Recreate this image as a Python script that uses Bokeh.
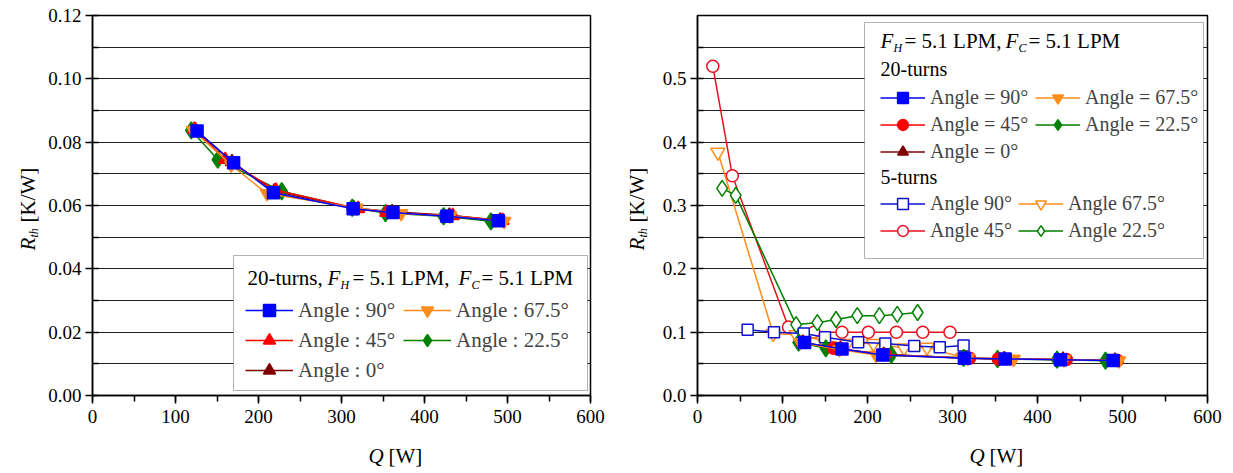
import math
from bokeh.plotting import figure
from bokeh.layouts import row, column
from bokeh.models import (Legend, LegendItem, Label, BoxAnnotation,
                          SingleIntervalTicker, PrintfTickFormatter, Range1d)
from bokeh.embed import file_html
from bokeh.resources import INLINE

# ---------------- data ----------------
# 20-turns, FH = FC = 5.1 LPM  (Q [W], Rth [K/W])
q20_90 = [126, 170, 218, 314, 362, 427, 489]
r20_90 = [0.0835, 0.0735, 0.0640, 0.0590, 0.0578, 0.0566, 0.0552]
q20_675 = [121, 167, 210, 318, 372, 431, 496]
r20_675 = [0.0838, 0.0728, 0.0638, 0.0592, 0.0575, 0.0567, 0.0550]
q20_45 = [123, 160, 221, 320, 354, 434, 494]
r20_45 = [0.0840, 0.0745, 0.0648, 0.0590, 0.0578, 0.0568, 0.0553]
q20_225 = [119, 151, 228, 313, 353, 423, 480]
r20_225 = [0.0837, 0.0745, 0.0645, 0.0593, 0.0576, 0.0566, 0.0550]
q20_0 = [124, 168, 219, 315, 361, 430, 491]
r20_0 = [0.0838, 0.0738, 0.0645, 0.0592, 0.0580, 0.0569, 0.0553]

# 5-turns
q5_90 = [59, 90, 125, 150, 189, 221, 255, 285, 313]
r5_90 = [0.104, 0.100, 0.098, 0.092, 0.084, 0.082, 0.078, 0.076, 0.079]
q5_675 = [24, 89, 116, 148, 176, 207, 243, 270, 312]
r5_675 = [0.384, 0.098, 0.096, 0.087, 0.082, 0.082, 0.075, 0.076, 0.060]
q5_45 = [18, 41, 107, 137, 170, 201, 234, 265, 297]
r5_45 = [0.520, 0.347, 0.108, 0.100, 0.100, 0.100, 0.100, 0.100, 0.100]
q5_225 = [29, 45, 116, 141, 163, 188, 214, 235, 259]
r5_225 = [0.327, 0.316, 0.112, 0.115, 0.120, 0.126, 0.126, 0.128, 0.131]

BLUE = "#0000ff"
ORANGE = "#ff8c1a"
RED = "#ff0000"
GREEN = "#008000"
DRED = "#800000"
FONT = "Liberation Serif"


def base_fig(fl, fw, fr, ymax, yint, fmt):
    p = figure(frame_width=fw, frame_height=380, min_border_left=fl,
               min_border_right=fr, min_border_top=15, min_border_bottom=40,
               x_range=Range1d(0, 600), y_range=Range1d(0, ymax),
               output_backend="svg", toolbar_location=None)
    p.outline_line_color = "black"
    p.outline_line_width = 1.5
    xt = SingleIntervalTicker(interval=100, num_minor_ticks=2)
    yt = SingleIntervalTicker(interval=yint, num_minor_ticks=2)
    p.xaxis.ticker = xt
    p.yaxis.ticker = yt
    p.ygrid.ticker = yt
    p.yaxis.formatter = PrintfTickFormatter(format=fmt)
    p.xgrid.visible = False
    p.ygrid.grid_line_color = "#222222"
    p.ygrid.grid_line_width = 1
    p.ygrid.minor_grid_line_color = "#222222"
    p.ygrid.minor_grid_line_width = 1
    p.axis.axis_line_color = "black"
    p.axis.axis_line_width = 1.5
    p.axis.major_tick_line_color = "black"
    p.axis.minor_tick_line_color = "black"
    p.axis.major_tick_line_width = 1.5
    p.axis.minor_tick_line_width = 1.5
    p.axis.major_label_text_font = FONT
    p.axis.major_label_text_font_size = "19px"
    p.axis.major_label_text_color = "black"
    p.xaxis.major_tick_in = 0
    p.xaxis.major_tick_out = 8
    p.xaxis.minor_tick_in = 0
    p.xaxis.minor_tick_out = 6
    p.xaxis.major_label_standoff = 6
    p.yaxis.major_tick_in = 0
    p.yaxis.major_tick_out = 7
    p.yaxis.minor_tick_in = 6
    p.yaxis.minor_tick_out = 0
    p.yaxis.major_label_standoff = 4
    return p


def blank_fig(w, h):
    f = figure(width=w, height=h, min_border_left=0, min_border_right=0,
               min_border_top=0, min_border_bottom=0, x_axis_type=None,
               y_axis_type=None, output_backend="svg", toolbar_location=None)
    f.outline_line_color = None
    f.xgrid.visible = False
    f.ygrid.visible = False
    return f


def txt(p, fl, fb, px, py, text, size="21px", style="normal", angle=0.0,
        align="left"):
    p.add_layout(Label(x=px - fl, y=fb - py, x_units="screen", y_units="screen",
                       text=text, text_font=FONT, text_font_size=size,
                       text_font_style=style, text_align=align,
                       text_baseline="middle", angle=angle, text_color="black"))


def series(p, q, r, color, marker, size, fill=None):
    ln = p.line(q, r, line_color=color, line_width=1.5)
    sc = p.scatter(q, r, marker=marker, size=size, line_color=color,
                   fill_color=fill if fill else color, line_width=1.5)
    return [ln, sc]


def make_legend(items, x, y, gw, gh, lw, fs):
    return Legend(items=items, ncols=2, location=(x, y), padding=0, margin=0,
                  spacing=0, glyph_width=gw, glyph_height=gh, label_height=gh,
                  label_width=lw, label_standoff=5, border_line_alpha=0,
                  background_fill_alpha=0, label_text_font=FONT,
                  label_text_font_size=fs)


def box(p, fl, fb, x0, x1, y0, y1):
    p.add_layout(BoxAnnotation(left=x0 - fl, right=x1 - fl, top=fb - y0,
                               bottom=fb - y1, left_units="screen",
                               right_units="screen", top_units="screen",
                               bottom_units="screen", fill_color="white",
                               fill_alpha=1, line_color="black", line_width=1))


# ---------------- left plot ----------------
FL1, FB1 = 92, 395
p1 = base_fig(52, 498, 33, 0.12, 0.02, "%.2f")
r0 = series(p1, q20_0, r20_0, DRED, "triangle", 13)
r225 = series(p1, q20_225, r20_225, GREEN, "diamond", 17)
r45 = series(p1, q20_45, r20_45, RED, "triangle", 13)
r675 = series(p1, q20_675, r20_675, ORANGE, "inverted_triangle", 13)
r90 = series(p1, q20_90, r20_90, BLUE, "square", 12)

box(p1, FL1, FB1, 233, 587, 255, 390)
p1.add_layout(make_legend(
    [LegendItem(label="Angle : 90°", renderers=r90),
     LegendItem(label="Angle : 45°", renderers=r45),
     LegendItem(label="Angle : 0°", renderers=r0),
     LegendItem(label="Angle : 67.5°", renderers=r675),
     LegendItem(label="Angle : 22.5°", renderers=r225)],
    245 - FL1, FB1 - 385, 48, 30, 105, "21px"))
txt(p1, FL1, FB1, 247, 277, "20-turns,")
txt(p1, FL1, FB1, 327, 277, "F", style="italic")
txt(p1, FL1, FB1, 340, 284, "H", size="12px", style="italic")
txt(p1, FL1, FB1, 352, 277, "= 5.1 LPM,")
txt(p1, FL1, FB1, 458, 277, "F", style="italic")
txt(p1, FL1, FB1, 471, 284, "C", size="12px", style="italic")
txt(p1, FL1, FB1, 481, 277, "= 5.1 LPM")

# left y title / x title holders
t1 = blank_fig(40, 473)
txt(t1, 0, 473, 27, 250, "R", style="italic", angle=math.pi / 2)
txt(t1, 0, 473, 33, 237, "th", size="12px", style="italic", angle=math.pi / 2)
txt(t1, 0, 473, 27, 222, "[K/W]", angle=math.pi / 2)
x1 = blank_fig(583, 38)
txt(x1, 40, 473, 316, 455, "Q", style="italic")
txt(x1, 40, 473, 336, 455, "[W]")

# ---------------- right plot ----------------
FL2, FB2 = 697, 395
p2 = base_fig(42, 510, 26, 0.6, 0.1, "%.1f")
o45 = series(p2, q5_45, r5_45, "#e8101e", "circle", 12, fill="white")
o675 = series(p2, q5_675, r5_675, ORANGE, "inverted_triangle", 14, fill="white")
o225 = series(p2, q5_225, r5_225, GREEN, "diamond", 16, fill="white")
o90 = series(p2, q5_90, r5_90, "#1010d0", "square", 11, fill="white")
f0 = series(p2, q20_0, r20_0, DRED, "triangle", 13)
f225 = series(p2, q20_225, r20_225, GREEN, "diamond", 17)
f45 = series(p2, q20_45, r20_45, RED, "circle", 12)
f675 = series(p2, q20_675, r20_675, ORANGE, "inverted_triangle", 13)
f90 = series(p2, q20_90, r20_90, BLUE, "square", 12)

box(p2, FL2, FB2, 864, 1203, 22, 258)
p2.add_layout(make_legend(
    [LegendItem(label="Angle = 90°", renderers=f90),
     LegendItem(label="Angle = 45°", renderers=f45),
     LegendItem(label="Angle = 0°", renderers=f0),
     LegendItem(label="Angle = 67.5°", renderers=f675),
     LegendItem(label="Angle = 22.5°", renderers=f225)],
    880 - FL2, FB2 - 165, 45, 27, 105, "20px"))
p2.add_layout(make_legend(
    [LegendItem(label="Angle 90°", renderers=o90),
     LegendItem(label="Angle 45°", renderers=o45),
     LegendItem(label="Angle 67.5°", renderers=o675),
     LegendItem(label="Angle 22.5°", renderers=o225)],
    880 - FL2, FB2 - 244, 45, 27, 88, "20px"))
txt(p2, FL2, FB2, 880, 40, "F", style="italic")
txt(p2, FL2, FB2, 893, 47, "H", size="12px", style="italic")
txt(p2, FL2, FB2, 904, 40, "= 5.1 LPM,")
txt(p2, FL2, FB2, 1005, 40, "F", style="italic")
txt(p2, FL2, FB2, 1018, 47, "C", size="12px", style="italic")
txt(p2, FL2, FB2, 1028, 40, "= 5.1 LPM")
txt(p2, FL2, FB2, 880, 68, "20-turns", size="20px")
txt(p2, FL2, FB2, 880, 176, "5-turns", size="20px")

t2 = blank_fig(32, 473)
txt(t2, 623, 473, 636, 250, "R", style="italic", angle=math.pi / 2)
txt(t2, 623, 473, 642, 237, "th", size="12px", style="italic", angle=math.pi / 2)
txt(t2, 623, 473, 636, 222, "[K/W]", angle=math.pi / 2)
x2 = blank_fig(578, 38)
txt(x2, 655, 473, 927, 455, "Q", style="italic")
txt(x2, 655, 473, 947, 455, "[W]")

layout = row(t1, column(p1, x1), t2, column(p2, x2))
open("out.html", "w").write(file_html(layout, INLINE))
